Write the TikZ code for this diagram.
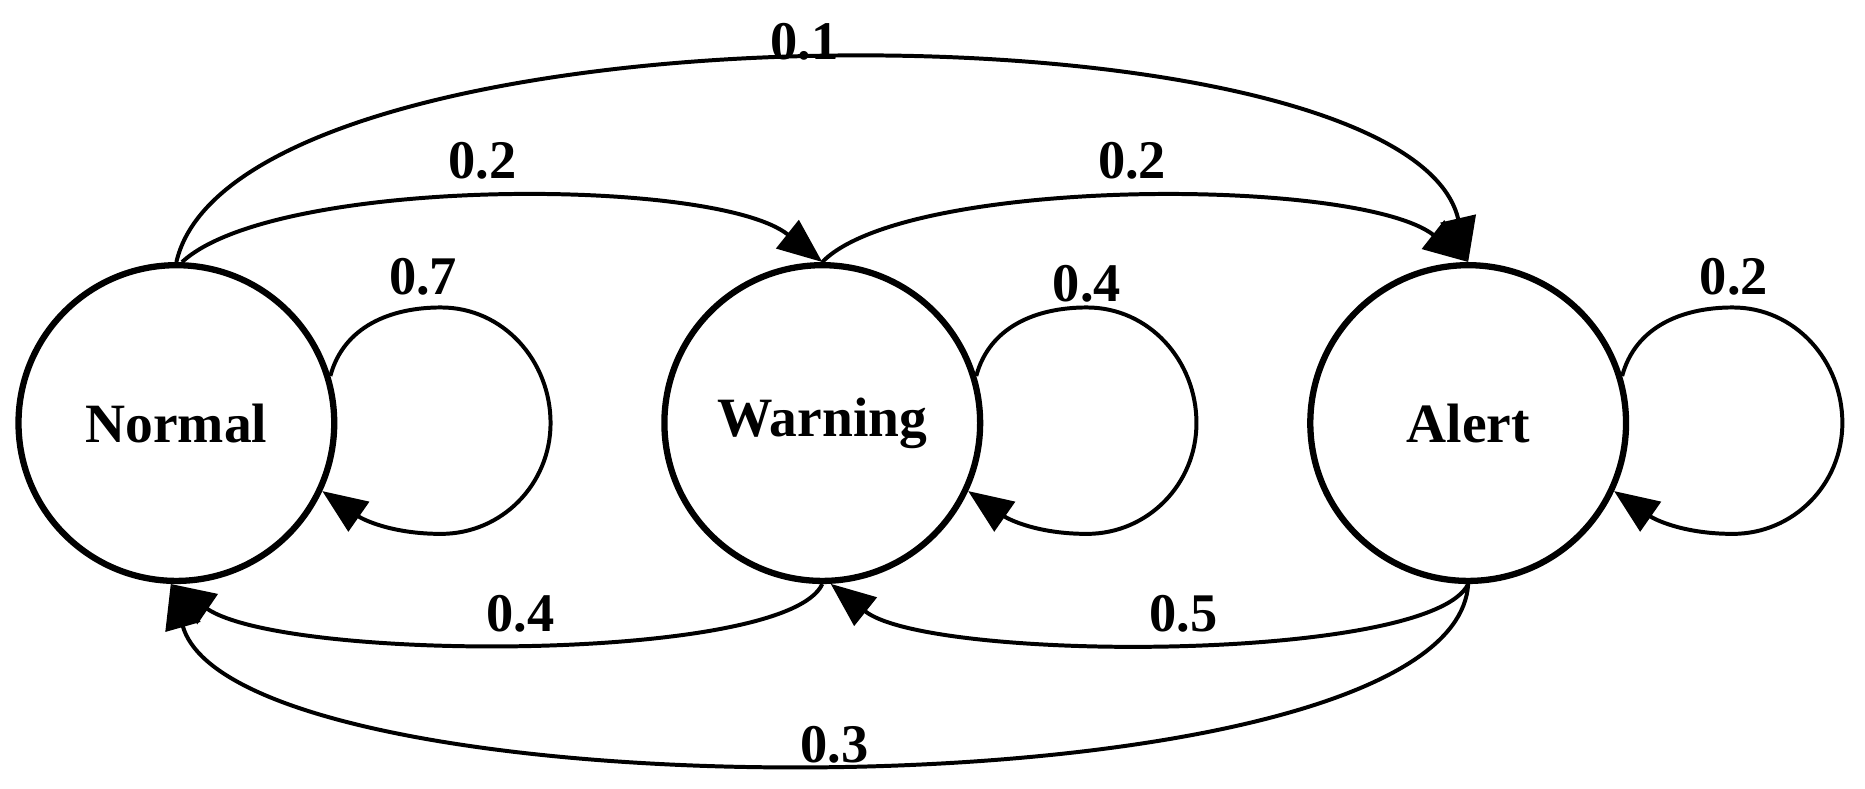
\documentclass[tikz,border=0pt]{standalone}
\usepackage{fontspec}
\setmainfont{Liberation Serif}
\usetikzlibrary{arrows.meta,calc}
\begin{document}
\begin{tikzpicture}[x=0.02cm,y=-0.02cm,
  st/.style={circle,draw,line width=3pt,minimum size=5.3cm,inner sep=0pt,font=\fontsize{26.5}{30}\selectfont\bfseries},
  ed/.style={line width=1.9pt,-{Triangle[length=0.75cm,width=0.6cm]}},
  lb/.style={font=\fontsize{26}{30}\selectfont\bfseries}]
\useasboundingbox (0,0) rectangle (1565,662);
\node[st] (N) at (148,355) {Normal};
\node[st] (W) at (690,355) {Warning};
\node[st] (A) at (1232,355) {Alert};
% loops
\foreach \X in {N,W,A}{
  \draw[ed] (\X.17) to[out=75,in=180] ($(\X)+(222,-97)$) to[out=0,in=90] ($(\X)+(314,0)$) to[out=-90,in=0] ($(\X)+(222,93)$) to[out=180,in=-35] (\X.-25);
}
\node[lb] (l1) at (355,232) {0.7};
\node[lb] (l2) at (912,238) {0.4};
\node[lb] (l3) at (1455,232) {0.2};
% top arcs
\draw[ed] (N.90) .. controls (200,-5) and (1180,-5) .. (A.90);
\draw[ed] (N.88) .. controls (230,148) and (600,148) .. (W.90);
\draw[ed] (W.90) .. controls (760,148) and (1140,148) .. (A.90);
\node[lb] (t1) at (675,35) {0.1};
\node[lb] (t2) at (405,135) {0.2};
\node[lb] (t3) at (950,135) {0.2};
% bottom arcs
\draw[ed] (W.270) .. controls (660,556) and (240,556) .. (N.268);
\draw[ed] (A.270) .. controls (1200,556) and (780,556) .. (W.273);
\draw[ed] (A.270) .. controls (1220,689) and (200,689) .. (N.268);
\node[lb] (b1) at (437,515) {0.4};
\node[lb] (b2) at (993,515) {0.5};
\node[lb] (b3) at (700,625) {0.3};
\end{tikzpicture}
\end{document}
